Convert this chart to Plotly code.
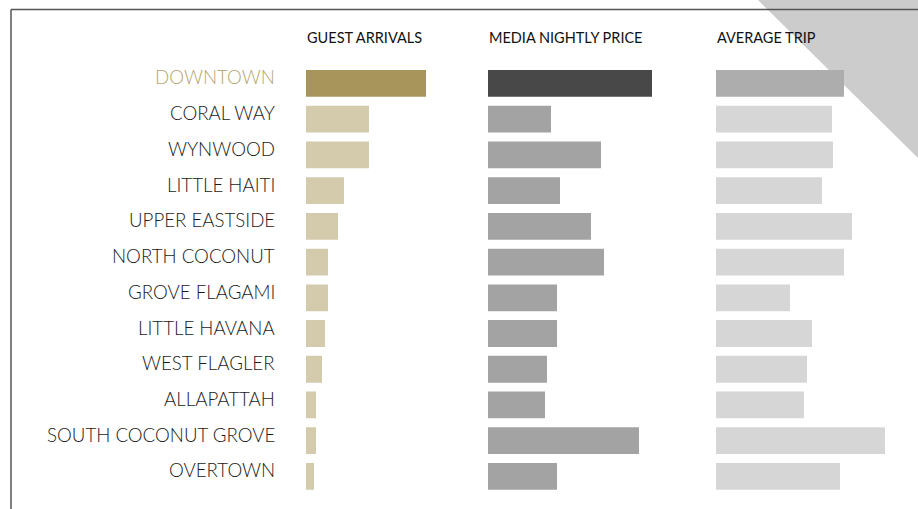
import plotly.graph_objects as go

W, H = 918, 509

neighborhoods = ["DOWNTOWN", "CORAL WAY", "WYNWOOD", "LITTLE HAITI", "UPPER EASTSIDE",
                 "NORTH COCONUT", "GROVE FLAGAMI", "LITTLE HAVANA", "WEST FLAGLER",
                 "ALLAPATTAH", "SOUTH COCONUT GROVE", "OVERTOWN"]
guest_arrivals = [120, 63, 63, 38, 32, 22, 22, 19, 16, 10, 10, 8]
nightly_price = [164, 63, 113, 72, 103, 116, 69, 69, 59, 57, 151, 69]
average_trip = [128, 116, 117, 106, 136, 128, 74, 96, 91, 88, 169, 124]
headers = ["GUEST ARRIVALS", "MEDIA NIGHTLY PRICE", "AVERAGE TRIP"]

hi_colors = ["#a8955c", "#484848", "#adadae"]
lo_colors = ["#d4cbad", "#a3a3a3", "#d6d6d6"]

def px(x):
    return x / W

def py(y):
    return 1 - y / H

fig = go.Figure()
series = [guest_arrivals, nightly_price, average_trip]
axes = ["x", "x2", "x3"]
for i, vals in enumerate(series):
    colors = [hi_colors[i] if k == 0 else lo_colors[i] for k in range(len(vals))]
    fig.add_trace(go.Bar(
        x=vals, y=neighborhoods, orientation="h",
        marker=dict(color=colors, line=dict(width=0)),
        width=0.75, xaxis=axes[i], yaxis="y",
        hoverinfo="x+y", showlegend=False,
    ))

col_px = [(306, 480), (488, 700), (716, 905)]
hidden = dict(visible=False, showgrid=False, zeroline=False, fixedrange=True)
layout_axes = {}
for i, (a, b) in enumerate(col_px):
    name = "xaxis" if i == 0 else f"xaxis{i+1}"
    layout_axes[name] = dict(domain=[px(a), px(b)], range=[0, b - a], anchor="y", **hidden)

annotations = []
header_x = [305, 487, 715]
for i, h in enumerate(headers):
    annotations.append(dict(
        text=h, xref="paper", yref="paper", x=px(header_x[i]), y=py(38),
        xanchor="left", yanchor="middle", showarrow=False,
        font=dict(family="Lato", size=14.5, color="#111111"),
    ))
for k, n in enumerate(neighborhoods):
    annotations.append(dict(
        text=n, xref="paper", yref="y", x=px(277), y=n,
        xanchor="right", yanchor="middle", showarrow=False, yshift=6,
        font=dict(family="Lato", size=18.7, weight=300,
                  color="#b8a472" if k == 0 else "#1a1a1a"),
    ))

shapes = [
    dict(type="path", xref="paper", yref="paper",
         path=f"M {px(758)} {py(0)} L {px(918)} {py(0)} L {px(918)} {py(158)} Z",
         fillcolor="#cccccc", line=dict(width=0), layer="below"),
    dict(type="line", xref="paper", yref="paper", x0=px(11), x1=1, y0=py(9.5), y1=py(9.5),
         line=dict(color="#555555", width=1.5), layer="above"),
    dict(type="line", xref="paper", yref="paper", x0=px(11), x1=px(11), y0=py(9.5), y1=0,
         line=dict(color="#555555", width=1.5), layer="above"),
]

fig.update_layout(
    width=W, height=H,
    margin=dict(l=0, r=0, t=0, b=0),
    paper_bgcolor="white", plot_bgcolor="rgba(0,0,0,0)",
    bargap=0.25,
    yaxis=dict(domain=[py(495.4), py(65.6)], categoryorder="array", categoryarray=neighborhoods,
               autorange="reversed", **hidden),
    annotations=annotations, shapes=shapes,
    **layout_axes,
)

fig.write_html("out.html", config={"displayModeBar": False},
               post_script="document.body.style.margin='0';document.body.style.overflow='hidden';")
